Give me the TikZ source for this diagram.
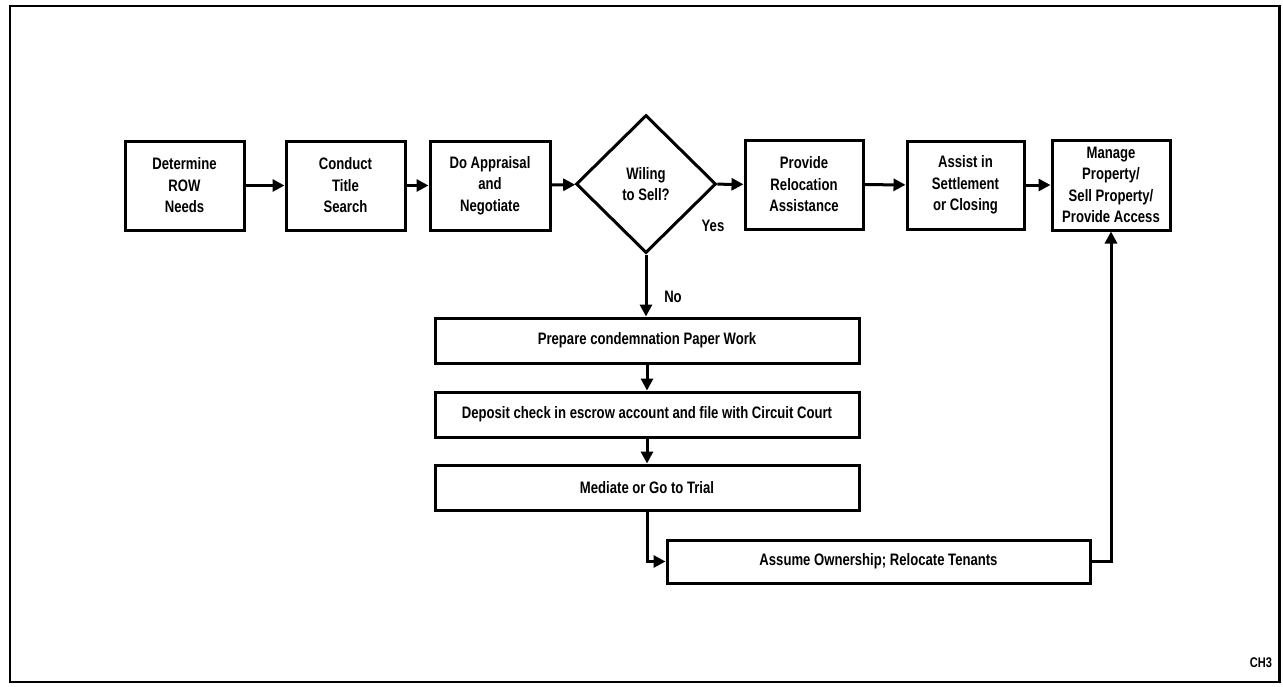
\documentclass[tikz,border=0pt]{standalone}
\usepackage{fontspec}
\setmainfont{Liberation Sans}[FakeStretch=0.79]
\usetikzlibrary{shapes.geometric,arrows.meta,positioning}
\begin{document}
\begin{tikzpicture}[x=1pt,y=-1pt,
  font=\fontsize{16.6}{21.5}\selectfont\bfseries,
  stepbox/.style={draw,line width=3pt,rectangle,inner sep=0pt,align=center},
  decision/.style={draw,line width=3pt,diamond,inner sep=0pt,align=center},
  flow/.style={line width=3pt,-{Triangle[length=12pt,width=12pt]}},
  lbl/.style={inner sep=0pt}]
  % page frame
  \useasboundingbox (0,0) rectangle (1283,686);
  \draw[line width=2.6pt] (10,6) rectangle (1279.5,682);

  % top row
  \node[stepbox,minimum width=119pt,minimum height=89pt] (need) at (184.5,185.5) {Determine\\ROW\\Needs};
  \node[stepbox,minimum width=119pt,minimum height=89pt] (title) at (345.5,185.5) {Conduct\\Title\\Search};
  \node[stepbox,minimum width=120pt,minimum height=89pt] (apr) at (490,185.5) {Do Appraisal\\and\\Negotiate};
  \node[decision,minimum width=140pt,minimum height=138pt] (sell) at (646,184) {Wiling\\to Sell?};
  \node[stepbox,minimum width=118pt,minimum height=89pt] (reloc) at (804,184.5) {Provide\\Relocation\\Assistance};
  \node[stepbox,minimum width=117pt,minimum height=88pt] (settle) at (965.5,185) {Assist in\\Settlement\\or Closing};
  \node[stepbox,minimum width=118pt,minimum height=90pt] (manage) at (1111,185) {Manage\\Property/\\Sell Property/\\Provide Access};

  % condemnation branch
  \node[stepbox,minimum width=424pt,minimum height=45pt] (prep) at (647,340.5) {Prepare condemnation Paper Work};
  \node[stepbox,minimum width=424pt,minimum height=45pt] (depo) at (647,414.5) {Deposit check in escrow account and file with Circuit Court};
  \node[stepbox,minimum width=424pt,minimum height=45pt] (medi) at (647,487.5) {Mediate or Go to Trial};
  \node[stepbox,minimum width=423pt,minimum height=43pt] (own) at (878.5,561.5) {Assume Ownership; Relocate Tenants};

  % connectors
  \draw[flow] (need) -- (title);
  \draw[flow] (title) -- (apr);
  \draw[flow] (apr) -- (sell);
  \draw[flow] (sell) -- (reloc);
  \draw[flow] (reloc) -- (settle);
  \draw[flow] (settle) -- (manage);
  \draw[flow] (sell.south) -- (prep.north -| sell.south);
  \draw[flow] (prep) -- (depo);
  \draw[flow] (depo) -- (medi);
  \draw[flow] (medi.south) |- (own.west);
  \draw[flow] (own.east) -| (manage.south);

  % branch labels
  \node[lbl] (yes) at (713,226) {Yes};
  \node[lbl] (no) at (673,297) {No};
  \node[lbl] (tag) at (1261,663) {\fontsize{14}{16}\selectfont CH3};
\end{tikzpicture}
\end{document}
